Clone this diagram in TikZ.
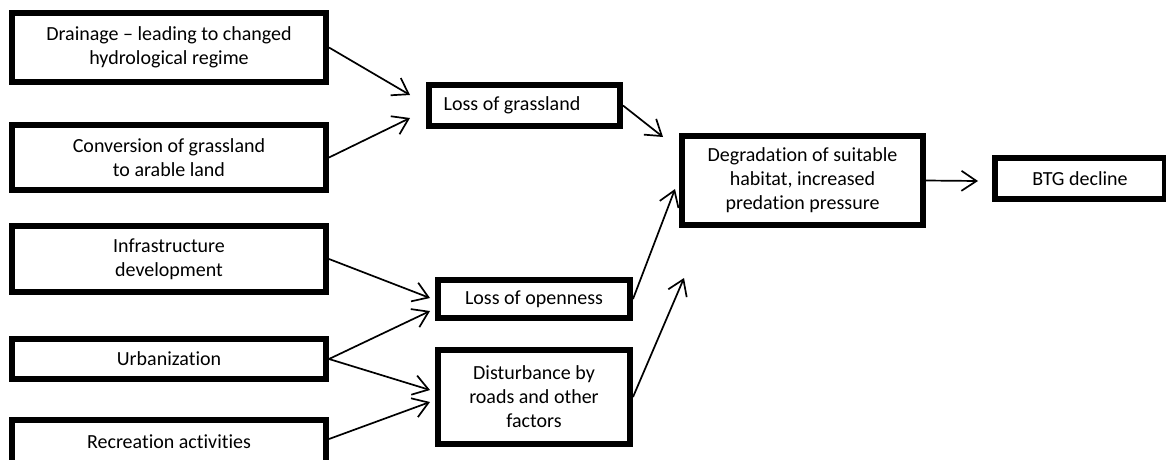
\documentclass[tikz,border=0pt]{standalone}
\usepackage{fontspec}
\setmainfont{Carlito}[Ligatures=CommonOff]
\usetikzlibrary{arrows.meta}

\begin{document}
\begin{tikzpicture}[x=1pt,y=-1pt,
  box/.style={draw,line width=6pt,minimum width=314pt,inner sep=0pt,align=center,font=\fontsize{20}{24}\selectfont},
  pfeil/.style={line width=1.7pt,-{Straight Barb[length=15pt,width=20pt]}}]
%Bild ist 1166 x 459, Koordinaten in Pixel, y nach unten
\useasboundingbox (0,0) rectangle (1166,459);
\clip (0,0) rectangle (1166,459);
%linke Spalte
\node[box,minimum height=69pt] (drain) at (169,47.5) {Drainage – leading to changed\\hydrological regime};
\node[box,minimum height=65pt] (conv) at (169,157.5) {Conversion of grassland\\to arable land};
\node[box,minimum height=66pt] (infra) at (169,259) {Infrastructure\\development};
\node[box,minimum height=40pt] (urban) at (169,359) {Urbanization};
%unterer Kasten geht ueber den Bildrand hinaus
\node[box,text height=28pt,text depth=30pt,anchor=base] (recr) at (169,448) {Recreation activities};
%mittlere Spalte
\node[box,minimum width=191pt,minimum height=41pt] (lossg) at (524.5,105.5) {Loss of grassland\hspace*{25pt}};
\node[box,minimum width=192pt,minimum height=38pt] (losso) at (534,299) {Loss of openness};
\node[box,minimum width=192pt,minimum height=94pt] (dist) at (534,397) {Disturbance by\\roads and other\\factors};
%rechts
\node[box,minimum width=241pt,minimum height=89pt] (degr) at (802.5,180.5) {Degradation of suitable\\habitat, increased\\predation pressure};
\node[box,minimum width=170pt,minimum height=41pt] (btg) at (1080,178.5) {BTG decline};
%Pfeilspitzen enden vor den Kaesten
\coordinate (gA) at (410,95);
\coordinate (gB) at (410,118);
\coordinate (dA) at (663,137);
\coordinate (dB) at (675,189);
\coordinate (dC) at (684,278);
\coordinate (bA) at (978,181);
\coordinate (oA) at (430,298);
\coordinate (oB) at (430,311);
\coordinate (sA) at (430,390);
\coordinate (sB) at (430,402);
\foreach \von/\nach in {drain/gA,conv/gB,lossg/dA,losso/dB,dist/dC,infra/oA,urban/oB,urban/sA}
  \draw[pfeil] (\von.east) -- (\nach);
\draw[pfeil] (recr.east |- 0,439) -- (sB);
\draw[pfeil] (degr.east) -- (bA);
\end{tikzpicture}
\end{document}
